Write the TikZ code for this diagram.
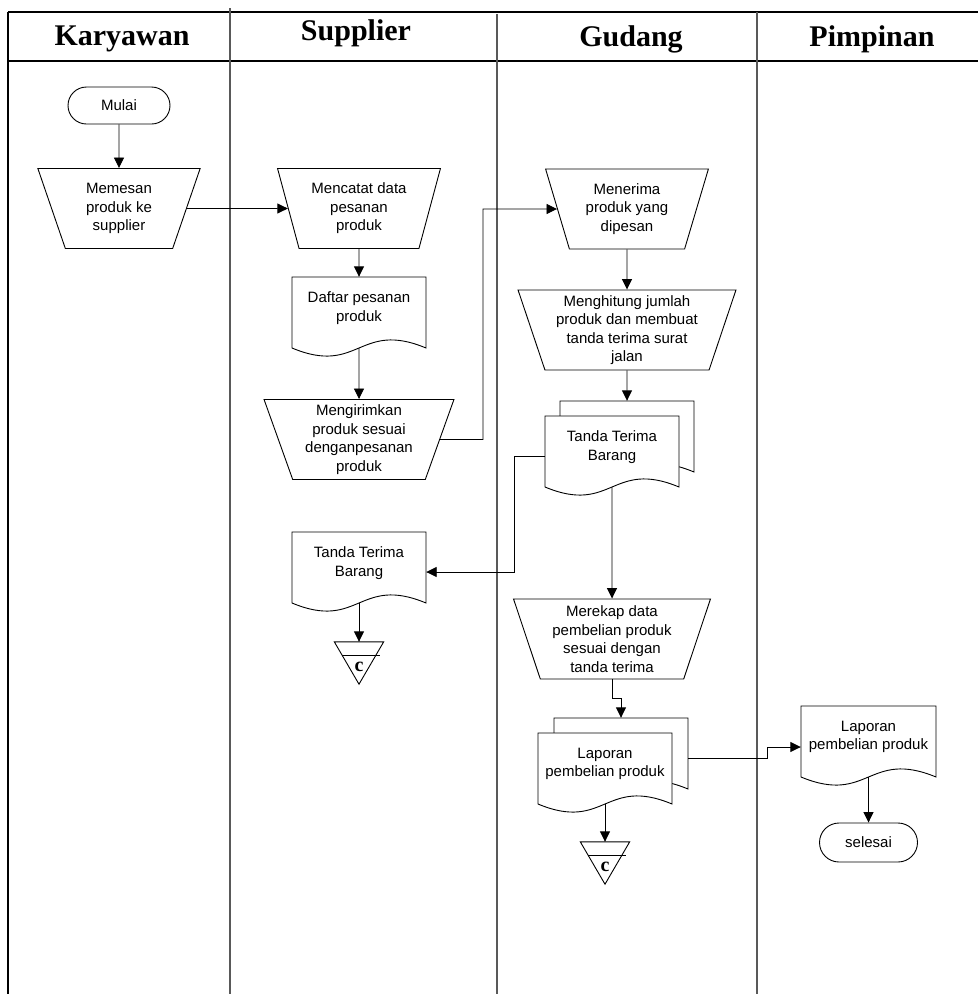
\documentclass[tikz,border=0pt]{standalone}
\usepackage{fontspec}
\setmainfont{Liberation Sans}
\newfontfamily\headfont{Liberation Serif}
\usetikzlibrary{arrows.meta,shapes.geometric,shapes.misc,calc}

% document symbol: #1 name, #2 left x, #3 top y, #4 width, #5 text
\newcommand\flowdoc[5]{%
  \draw[docline] (#2,#3) -- (#2,#3+71) .. controls +(0.5*#4,28) and +(-0.5*#4,-28) .. ++(#4,0) -- (#2+#4,#3) -- cycle;
  \node[doctext, minimum width=#4] (#1) at (#2+0.5*#4,#3+31) {#5};
}
% offline storage symbol: #1 name, #2 centre x, #3 top y
\newcommand\flowstore[3]{%
  \node[minimum width=49pt, minimum height=42pt, inner sep=0pt] (#1) at (#2,#3+21) {};
  \draw[flow] (#1.north west) -- (#1.north east) -- (#1.south) -- cycle;
  \draw[flow] ($(#1.north west)!0.31!(#1.south)$) -- ($(#1.north east)!0.31!(#1.south)+(4,0)$);
  \node[font=\headfont\bfseries\fontsize{20}{20}\selectfont, inner sep=0pt] (#1-c) at ($(#1.north)!0.6!(#1.south)$) {c};
}

\begin{document}
\begin{tikzpicture}[x=1pt,y=-1pt,
  lane/.style={line width=1.1pt, black!65},
  rule/.style={line width=1.1pt, black},
  head/.style={font=\headfont\bfseries\fontsize{30}{36}\selectfont, anchor=base, inner sep=0pt},
  flow/.style={line width=0.9pt},
  arr/.style={flow, -{Triangle[length=10.5pt,width=10pt]}},
  txt/.style={font=\fontsize{15}{18.5}\selectfont, align=center},
  term/.style={rounded rectangle, draw, flow, txt, minimum width=#1, minimum height=37pt, inner sep=0pt},
  manual/.style={trapezium, draw, flow, txt, trapezium left angle=108.5, trapezium right angle=108.5,
    trapezium stretches=true, minimum width=#1, minimum height=80pt, inner sep=0pt},
  doctext/.style={txt, minimum height=62pt, inner sep=0pt},
  docline/.style={draw, flow, fill=white}]
\useasboundingbox (0,0) rectangle (978,994);

% swimlane frame
\draw[rule] (8,12) -- (978,12);
\draw[rule] (8,61) -- (978,61);
\draw[rule] (8,12) -- (8,994);
\draw[lane] (230,8) -- (230,994);
\draw[lane] (497,14) -- (497,994);
\draw[lane] (757,12) -- (757,994);

\node[head] (hk) at (122,45) {Karyawan};
\node[head] (hs) at (356,40) {Supplier};
\node[head] (hg) at (631,46) {Gudang};
\node[head] (hp) at (872,46) {Pimpinan};

% Karyawan
\node[term=102pt] (mulai) at (119,105.5) {Mulai};
\node[manual=163pt] (memesan) at (119,208.5) {Memesan\\produk ke\\supplier};

% Supplier
\node[manual=163pt] (mencatat) at (359,208.5) {Mencatat data\\pesanan\\produk};
\flowdoc{daftar}{292}{277}{134}{Daftar pesanan\\produk}
\node[manual=190pt] (mengirim) at (359,439.5) {Mengirimkan\\produk sesuai\\denganpesanan\\produk};
\flowdoc{ttS}{292}{532}{134}{Tanda Terima\\Barang}
\flowstore{st1}{359}{642}

% Gudang
\node[manual=163pt] (menerima) at (627,209) {Menerima\\produk yang\\dipesan};
\node[manual=218pt] (menghitung) at (627,330) {Menghitung jumlah\\produk dan membuat\\tanda terima surat\\jalan};
\flowdoc{ttGb}{560}{401}{134}{}
\flowdoc{ttG}{545}{416}{134}{Tanda Terima\\Barang}
\node[manual=197pt] (merekap) at (612,639) {Merekap data\\pembelian produk\\sesuai dengan\\tanda terima};
\flowdoc{lapGb}{554}{718}{134}{}
\flowdoc{lapG}{538}{733}{134}{Laporan\\pembelian produk}
\flowstore{st2}{605}{842}

% Pimpinan
\flowdoc{lapP}{801}{706}{135}{Laporan\\pembelian produk}
\node[term=98pt, minimum height=39pt] (selesai) at (868.5,842.5) {selesai};

% bend points
\coordinate (jx1) at (483,209);
\coordinate (jx2) at (514,572);
\coordinate (jy3) at (621,698);
\coordinate (jx4) at (767,747);

% connectors
\draw[arr] (mulai) -- (memesan);
\draw[arr] (memesan) -- (mencatat);
\draw[arr] (mencatat) -- (daftar);
\draw[arr] ([yshift=-9pt]daftar.south) -- (mengirim);
\draw[arr] (mengirim.east) -| (jx1) -- (menerima.west);
\draw[arr] (menerima) -- (menghitung);
\draw[arr] (menghitung) -- (ttGb);
\draw[arr] ([yshift=-9pt]ttG.west) -| (jx2) -- ([yshift=-9pt]ttS.east);
\draw[arr] ([yshift=-9pt]ttS.south) -- (st1.north);
\draw[arr] ([yshift=-9pt]ttG.south) -- (merekap);
\draw[arr] (merekap) |- (jy3) -- (lapGb.north);
\draw[arr] ([yshift=-9pt]lapG.south) -- (st2.north);
\draw[arr] ([yshift=-9pt]lapGb.east) -| (jx4) -- ([yshift=-10pt]lapP.west);
\draw[arr] ([yshift=-9pt]lapP.south) -- (selesai);
\end{tikzpicture}
\end{document}
